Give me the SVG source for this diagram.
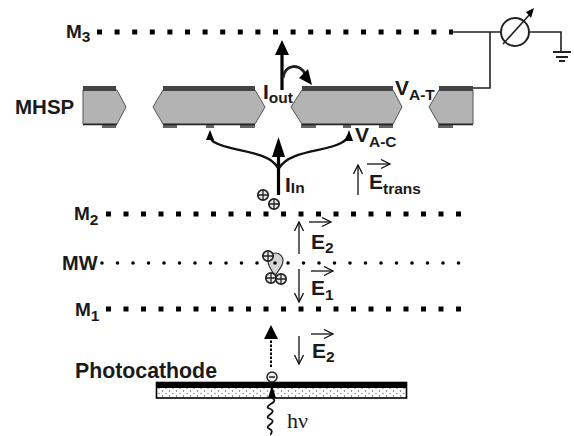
<svg xmlns="http://www.w3.org/2000/svg" xmlns:xlink="http://www.w3.org/1999/xlink" width="574" height="436" viewBox="0 0 574 436">
<style>
text{font-family:"Liberation Sans",Arial,sans-serif;font-weight:bold;fill:#1a1a1a}
.lb{font-size:19px}.big{font-size:21px}.sub{font-size:15.500px}
.mesh{fill:none;stroke:#000;stroke-width:5}
.body{fill:#b3b3b3;stroke:#555;stroke-width:1}
.band{fill:#444}.pad{fill:#666}.base{stroke:#222;stroke-width:1.5;fill:none}
.wire{fill:none;stroke:#222;stroke-width:1.6}
.curve{fill:none;stroke:#111;stroke-width:2.400}
.thick{fill:none;stroke:#000;stroke-width:3.200}
.thin{fill:none;stroke:#111;stroke-width:1.300}
.head{fill:#000}
</style>
<defs>
<marker id="open" markerUnits="userSpaceOnUse" markerWidth="12" markerHeight="12" refX="10" refY="5" orient="auto"><path d="M1 0.500L10 5L1 9.500" fill="none" stroke="#111" stroke-width="1.300"/></marker>
<g id="ion"><circle r="5.200" fill="#e8e8e8" stroke="#222" stroke-width="1.700"/><path d="M-5 0H5M0-5V5" stroke="#222" stroke-width="1.300"/></g>
<pattern id="stipple" width="7" height="5" patternUnits="userSpaceOnUse"><rect width="7" height="5" fill="#fff"/><circle cx="1.500" cy="1" r=".7" fill="#555"/><circle cx="5" cy="3.500" r=".7" fill="#777"/></pattern>
</defs>
<g id="M3"><line class="mesh" x1="97" y1="32" x2="453" y2="32" stroke-dasharray="5 12.600"/><text class="lb" x="66" y="38">M<tspan class="sub" dy="4">3</tspan></text></g>
<g id="M2"><line class="mesh" x1="106" y1="214" x2="461" y2="214" stroke-dasharray="5 12.500"/><text class="lb" x="74" y="220">M<tspan class="sub" dy="5">2</tspan></text></g>
<g id="MW"><line x1="102" y1="263" x2="464" y2="263" fill="none" stroke="#000" stroke-width="3.600" stroke-linecap="round" stroke-dasharray="0 15.500"/><text x="62" y="270" font-size="20">MW</text></g>
<g id="M1"><line class="mesh" x1="106" y1="309" x2="461" y2="309" stroke-dasharray="5 12.500"/><text class="lb" x="75" y="316">M<tspan class="sub" dy="5">1</tspan></text></g>
<g id="MHSP">
<text x="15" y="114" font-size="20.500">MHSP</text>
<path class="body" d="M83 90H117L126 107L117 124H83Z"/>
<path class="body" d="M163 90H255L265 107L255 124H163L153 107Z"/>
<path class="body" d="M302 90H393L402 107L393 124H302L291 107Z"/>
<path class="body" d="M439 90H473V124H439L429 107Z"/>
<g class="band"><rect x="83" y="86" width="33" height="5"/><rect x="163" y="86" width="92" height="5"/><rect x="302" y="86" width="91" height="5"/><rect x="439" y="86" width="34" height="5"/></g>
<g class="pad"><rect x="102" y="124" width="14" height="4"/><rect x="163" y="124" width="14" height="4"/><rect x="206" y="124" width="8" height="4"/><rect x="240" y="124" width="15" height="4"/><rect x="301" y="124" width="15" height="4"/><rect x="343" y="124" width="8" height="4"/><rect x="379" y="124" width="14" height="4"/><rect x="438" y="124" width="15" height="4"/></g>
<path class="base" d="M83 124.500H117M163 124.500H255M302 124.500H393M439 124.500H473"/>
</g>
<g id="meter"><circle cx="515" cy="32" r="14" fill="#fff" stroke="#222" stroke-width="2"/><path d="M503 44L531 13" class="wire"/><path d="M534 8L526 12L531 18Z" class="head"/></g>
<g id="ground"><path class="wire" style="stroke-width:2" d="M553 52H571M556 57H568M559 61H565"/></g>
<g id="photocathode">
<rect x="156.500" y="382.500" width="250" height="15.500" fill="url(#stipple)" stroke="#000" stroke-width="1.600"/>
<rect x="156" y="382" width="251" height="6" fill="#000"/>
<text x="75" y="378" font-size="21.300">Photocathode</text>
</g>
<g id="labels">
<text class="big" x="263" y="99" font-size="22">I<tspan class="sub" dy="4">out</tspan></text>
<text class="big" x="395" y="95">V<tspan class="sub" dy="5">A-T</tspan></text>
<text class="big" x="355" y="142">V<tspan class="sub" dy="5">A-C</tspan></text>
<text class="big" x="285" y="192">I<tspan class="sub" dy="1">In</tspan></text>
<text class="big" x="369" y="189">E<tspan class="sub" dy="5">trans</tspan></text>
<text class="big" x="311" y="249">E<tspan class="sub" dy="4">2</tspan></text>
<text class="big" x="311" y="295">E<tspan class="sub" dy="5">1</tspan></text>
<text class="big" x="312" y="358">E<tspan class="sub" dy="4">2</tspan></text>
<text x="287" y="428" font-size="22" style="font-family:'Liberation Serif',serif;font-weight:normal">hν</text>
</g>
<g id="ions">
<use xlink:href="#ion" href="#ion" x="263" y="195"/><use xlink:href="#ion" href="#ion" x="274" y="204"/>
<path d="M268 260A7.500 7.500 0 0 1 283 261C283 266 278 271 275 276C272 271 267 265 268 260Z" fill="#d4d4d4" stroke="#333" stroke-width="1.200"/>
<circle cx="275" cy="263" r="1.800"/>
<use xlink:href="#ion" href="#ion" x="268" y="256"/><use xlink:href="#ion" href="#ion" x="271" y="278"/><use xlink:href="#ion" href="#ion" x="281" y="279"/>
<circle cx="272" cy="377" r="5" fill="#eee" stroke="#222" stroke-width="1.500"/><path d="M269 377H275" stroke="#222" stroke-width="1.500"/>
</g>
<g id="connectors">
<path class="wire" d="M451 32H501M473 88H490V32M529 32H561V52"/>
<path class="thick" d="M282 90V52"/><path class="head" d="M282 40L275 55H289Z"/>
<path class="wire" style="stroke-width:2.800" d="M283 78C285 64 300 63 305 74"/><path class="head" d="M312 85L299 78L308 69Z"/>
<path class="thick" d="M278.500 195V154"/><path class="head" d="M278.500 137L272 157H285Z"/>
<path class="curve" d="M278 168C268 150 230 152 214 142C212 141 211 139 210 136"/><path class="head" d="M210 130L206 140L214 140Z"/>
<path class="curve" d="M279 168C290 150 325 152 341 143C345 141 347 139 348 136"/><path class="head" d="M349 130L345 141L353 141Z"/>
<path class="thin" d="M358 195V165" marker-end="url(#open)"/><path class="thin" d="M367 164H390" marker-end="url(#open)"/>
<path class="thin" d="M299 254V222" marker-end="url(#open)"/><path class="thin" d="M309 222H331" marker-end="url(#open)"/>
<path class="thin" d="M299 269V302" marker-end="url(#open)"/><path class="thin" d="M311 271H333" marker-end="url(#open)"/>
<path class="thin" d="M299 336V364" marker-end="url(#open)"/><path class="thin" d="M311 334H333" marker-end="url(#open)"/>
<path d="M271 367V335" fill="none" stroke="#000" stroke-width="2" stroke-dasharray="2.500 1.500"/><path class="head" d="M271 325L264 339H278Z"/>
<path class="head" d="M272 385L268 398H276Z"/>
<path fill="none" stroke="#111" stroke-width="1.800" d="M272 398C280 402 265 405 268 408C280 412 265 415 268 418C280 422 265 425 268 428C275 431 270 433 271 435"/>
</g>
</svg>
